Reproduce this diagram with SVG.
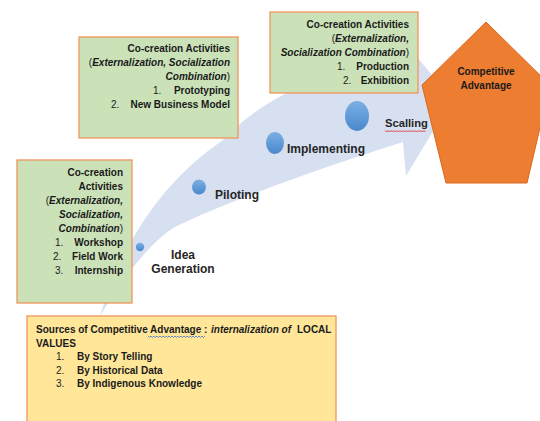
<svg xmlns="http://www.w3.org/2000/svg" width="540" height="421" viewBox="0 0 540 421">
<defs>
<style>
.t{font-family:"Liberation Sans",Arial,sans-serif;font-size:10px;font-weight:bold;fill:#1a1a1a}
.n{font-weight:normal}
.i{font-style:italic}
.lbl{font-family:"Liberation Sans",Arial,sans-serif;font-size:12px;font-weight:bold;fill:#262626}
.g{fill:#CBE2B9;stroke:#F0955A;stroke-width:1.3}
.y{fill:#FFE699;stroke:#F0955A;stroke-width:1.3}
.dot{fill:url(#bg)}
</style>
<linearGradient id="bg" x1="0" y1="0" x2="0" y2="1"><stop offset="0" stop-color="#7AB0E4"/><stop offset="1" stop-color="#4A88CC"/></linearGradient>
</defs>
<rect width="540" height="421" fill="#fff"/>
<g id="connectors">
<path d="M100,316 Q135,200 223,140 C250,112 300,72 400,64 L405,42 L452,100 L406,176 L403,142 C330,165 230,200 173,228 Q140,250 100,316 Z" fill="#D6E0F1"/>
</g>
<g id="stage-idea">
<circle class="dot" cx="140" cy="247" r="4.2"/>
<text class="lbl" x="183" y="259" text-anchor="middle">Idea</text>
<text class="lbl" x="183" y="273" text-anchor="middle">Generation</text>
</g>
<g id="stage-piloting">
<ellipse class="dot" cx="199" cy="187" rx="7" ry="7.5"/>
<text class="lbl" x="215" y="199">Piloting</text>
</g>
<g id="stage-implementing">
<ellipse class="dot" cx="275" cy="143" rx="9" ry="11"/>
<text class="lbl" x="287" y="153">Implementing</text>
</g>
<g id="stage-scalling">
<ellipse class="dot" cx="357" cy="116" rx="12" ry="15"/>
<text class="lbl" x="385" y="127" style="font-size:11.2px">Scalling</text>
<path d="M385,130.5 l1.5,1.5 l1.5,-1.5 l1.5,1.5 l1.5,-1.5 l1.5,1.5 l1.5,-1.5 l1.5,1.5 l1.5,-1.5 l1.5,1.5 l1.5,-1.5 l1.5,1.5 l1.5,-1.5 l1.5,1.5 l1.5,-1.5 l1.5,1.5 l1.5,-1.5 l1.5,1.5 l1.5,-1.5 l1.5,1.5 l1.5,-1.5 l1.5,1.5 l1.5,-1.5 l1.5,1.5 l1.5,-1.5 l1.5,1.5 l1.5,-1.5 l1.5,1.5" fill="none" stroke="#E02020" stroke-width="0.8"/>
</g>
<g id="box-idea">
<rect class="g" x="17" y="160" width="115" height="143"/>
<text class="t" x="123" y="176" text-anchor="end">Co-creation</text>
<text class="t" x="123" y="189.5" text-anchor="end">Activities</text>
<text class="t" x="123" y="204" text-anchor="end"><tspan class="n">(</tspan><tspan class="i">Externalization,</tspan></text>
<text class="t i" x="123" y="218" text-anchor="end">Socialization,</text>
<text class="t" x="123" y="232" text-anchor="end"><tspan class="i">Combination</tspan><tspan class="n">)</tspan></text>
<text class="t n" x="55" y="245.5">1.</text>
<text class="t" x="123" y="245.5" text-anchor="end">Workshop</text>
<text class="t n" x="53" y="259.5">2.</text>
<text class="t" x="123" y="259.5" text-anchor="end">Field Work</text>
<text class="t n" x="55" y="273.5">3.</text>
<text class="t" x="123" y="273.5" text-anchor="end">Internship</text>
</g>
<g id="box-piloting">
<rect class="g" x="79" y="37" width="159" height="101"/>
<text class="t" x="230" y="52" text-anchor="end">Co-creation Activities</text>
<text class="t" x="230" y="66" text-anchor="end"><tspan class="n">(</tspan><tspan class="i">Externalization, Socialization</tspan></text>
<text class="t" x="230" y="80" text-anchor="end"><tspan class="i">Combination</tspan><tspan class="n">)</tspan></text>
<text class="t n" x="153" y="94">1.</text>
<text class="t" x="230" y="94" text-anchor="end">Prototyping</text>
<text class="t n" x="111" y="107.5">2.</text>
<text class="t" x="230" y="107.5" text-anchor="end">New Business Model</text>
</g>
<g id="competitive-advantage">
<polygon points="486,22 422,85 446,183 527,183 550,85" fill="#ED7D31" stroke="#D9691F" stroke-width="1"/>
<text class="t" x="486" y="75" text-anchor="middle">Competitive</text>
<text class="t" x="486" y="88.5" text-anchor="middle">Advantage</text>
</g>
<g id="box-scalling">
<rect class="g" x="270" y="12" width="148" height="81"/>
<text class="t" x="409" y="28" text-anchor="end">Co-creation Activities</text>
<text class="t" x="409" y="42" text-anchor="end"><tspan class="n">(</tspan><tspan class="i">Externalization,</tspan></text>
<text class="t" x="409" y="56" text-anchor="end"><tspan class="i">Socialization Combination</tspan><tspan class="n">)</tspan></text>
<text class="t n" x="337" y="69.5">1.</text>
<text class="t" x="409" y="69.5" text-anchor="end">Production</text>
<text class="t n" x="343" y="83.5">2.</text>
<text class="t" x="409" y="83.5" text-anchor="end">Exhibition</text>
</g>
<g id="box-sources">
<rect class="y" x="27" y="316" width="309" height="120"/>
<text class="t" x="36" y="333">Sources of Competitive Advantage :<tspan class="i" x="211">internalization of</tspan><tspan x="297">LOCAL</tspan></text>
<text class="t" x="36" y="346.5">VALUES</text>
<text class="t n" x="56" y="360">1.</text>
<text class="t" x="77" y="360">By Story Telling</text>
<text class="t n" x="56" y="373.5">2.</text>
<text class="t" x="77" y="373.5">By Historical Data</text>
<text class="t n" x="56" y="387">3.</text>
<text class="t" x="77" y="387">By Indigenous Knowledge</text>
<path d="M148,336 l1.5,1.5 l1.5,-1.5 l1.5,1.5 l1.5,-1.5 l1.5,1.5 l1.5,-1.5 l1.5,1.5 l1.5,-1.5 l1.5,1.5 l1.5,-1.5 l1.5,1.5 l1.5,-1.5 l1.5,1.5 l1.5,-1.5 l1.5,1.5 l1.5,-1.5 l1.5,1.5 l1.5,-1.5 l1.5,1.5 l1.5,-1.5 l1.5,1.5 l1.5,-1.5 l1.5,1.5 l1.5,-1.5 l1.5,1.5 l1.5,-1.5 l1.5,1.5 l1.5,-1.5 l1.5,1.5 l1.5,-1.5 l1.5,1.5 l1.5,-1.5 l1.5,1.5 l1.5,-1.5 l1.5,1.5 l1.5,-1.5 l1.5,1.5 l1.5,-1.5" fill="none" stroke="#4070D0" stroke-width="0.8"/>
</g>
</svg>
